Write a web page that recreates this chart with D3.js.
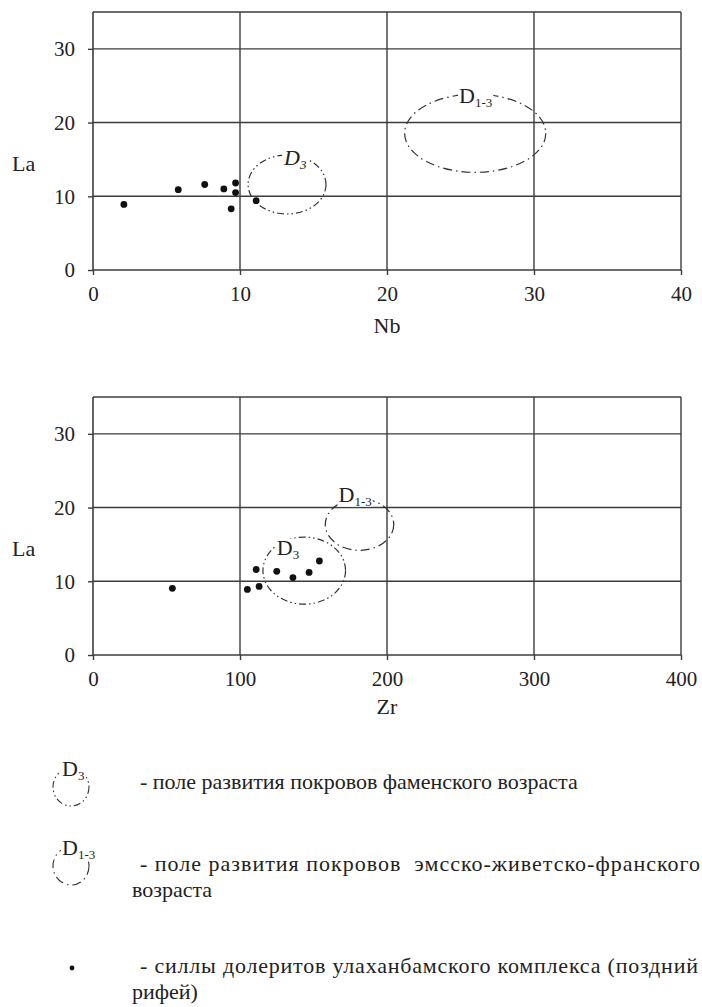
<!DOCTYPE html>
<html>
<head>
<meta charset="utf-8">
<script src="https://cdn.jsdelivr.net/npm/d3@7"></script>
<style>
  html, body { margin: 0; padding: 0; background: #fff; }
  svg text { font-family: "Liberation Serif", "DejaVu Serif", serif; fill: #222; white-space: pre; }
</style>
</head>
<body>
<div id="chart"></div>
<script>
// Nb–La diagram (upper panel)
const nbVals   = [2.1, 5.8, 7.6, 8.9, 9.7, 9.7, 9.4, 11.1];
const laVsNb   = [8.9, 10.9, 11.6, 11.0, 11.8, 10.5, 8.3, 9.4];
// Zr–La diagram (lower panel)
const zrVals   = [54, 105, 113, 111, 125, 136, 147, 154];
const laVsZr   = [9.05, 8.9, 9.3, 11.6, 11.35, 10.5, 11.2, 12.75];

// fields of the Devonian covers, in data units: [cx, cy, rx, ry, labelX, labelY]
const fieldNames = ['D3', 'D1-3'];
const fieldsNb   = [[13.2, 11.6, 2.65, 4.0, 13.0, 14.3], [26.0, 18.55, 4.8, 5.3, 24.9, 22.7]];
const fieldsZr   = [[143.7, 11.45, 28.1, 4.55, 125, 13.6], [181.3, 17.7, 23.3, 3.5, 167, 20.8]];

const laTicks = [0, 10, 20, 30];
const nbTicks = [0, 10, 20, 30, 40];
const zrTicks = [0, 100, 200, 300, 400];

// legend rows; a row that wraps is justified (its first line stretched to the margin)
const legendLines = [
  ['- поле развития покровов фаменского возраста'],
  ['- поле развития покровов  эмсско-живетско-франского', 'возраста'],
  ['- силлы долеритов улаханбамского комплекса (поздний', 'рифей)']
];

const W = 702, H = 1007;
const LINE = '#3c3c3c';
const SERIF = '"Liberation Serif", "DejaVu Serif", serif';
const dashes = { 'D3': '7,3,1.5,3,1.5,3', 'D1-3': '9,4,1.5,4' };

const svg = d3.select('#chart').append('svg')
  .attr('width', W).attr('height', H)
  .attr('viewBox', `0 0 ${W} ${H}`)
  .style('display', 'block');

function fieldLabel(g, x, y, name, italic) {
  const sub = name.slice(1);
  const t = g.append('text')
    .attr('x', x).attr('y', y)
    .style('font-family', SERIF)
    .style('font-size', '22px')
    .style('font-style', italic ? 'italic' : 'normal');
  t.append('tspan').text('D');
  t.append('tspan').attr('dy', 4).style('font-size', '13px').text(sub);
  return t;
}

function whiteBehind(g, t) {
  const bb = t.node().getBBox();
  g.insert('rect', () => t.node())
    .attr('x', bb.x - 1).attr('y', bb.y + 4)
    .attr('width', bb.width + 2).attr('height', bb.height - 6)
    .attr('fill', '#fff');
}

function mkScatter(top, xVals, yVals, xTicks, xMax, xTitle, fields, italicD3, titleY) {
  const left = 93, right = 681, bottom = top + 258;
  const x = d3.scaleLinear().domain([0, xMax]).range([left, right]);
  const y = d3.scaleLinear().domain([0, 35]).range([bottom, top]);
  const g = svg.append('g');

  // grid + frame
  g.selectAll('.gx').data(xTicks.slice(1)).join('line')
    .attr('x1', d => x(d)).attr('x2', d => x(d))
    .attr('y1', y(0)).attr('y2', y(35))
    .attr('stroke', LINE).attr('stroke-width', 1.4);
  g.selectAll('.gy').data(laTicks.slice(1).concat([35])).join('line')
    .attr('x1', x(0)).attr('x2', x(xMax))
    .attr('y1', d => y(d)).attr('y2', d => y(d))
    .attr('stroke', LINE).attr('stroke-width', 1.4);

  const ax = g.append('g').attr('transform', `translate(0,${y(0)})`)
    .call(d3.axisBottom(x).tickValues(xTicks).tickSize(5).tickPadding(11));
  const ay = g.append('g').attr('transform', `translate(${x(0)},0)`)
    .call(d3.axisLeft(y).tickValues(laTicks).tickSize(5).tickPadding(13));
  [ax, ay].forEach(a => {
    a.attr('font-family', null).attr('font-size', null);
    a.select('.domain').attr('stroke', LINE).attr('stroke-width', 1.6);
    a.selectAll('.tick line').attr('stroke', LINE).attr('stroke-width', 1.4);
    a.selectAll('.tick text').attr('fill', '#222')
      .style('font-family', SERIF).style('font-size', '21px');
  });
  ax.select('.domain').attr('d', `M${x(0)},0H${x(xMax)}`);
  ay.select('.domain').attr('d', `M0,${y(0)}V${y(35)}`);

  g.append('text').attr('x', 387).attr('y', titleY)
    .attr('text-anchor', 'middle').style('font-family', SERIF).style('font-size', '22px').text(xTitle);
  g.append('text').attr('x', 12).attr('y', top + 159)
    .style('font-family', SERIF).style('font-size', '22px').text('La');

  // fields
  fields.forEach((f, i) => {
    const name = fieldNames[i];
    g.append('ellipse')
      .attr('cx', x(f[0])).attr('cy', y(f[1]))
      .attr('rx', x(f[0] + f[2]) - x(f[0])).attr('ry', y(f[1]) - y(f[1] + f[3]))
      .attr('fill', 'none').attr('stroke', '#333').attr('stroke-width', 1.2)
      .attr('stroke-dasharray', dashes[name]);
    whiteBehind(g, fieldLabel(g, x(f[4]), y(f[5]), name, italicD3 && name === 'D3'));
  });

  g.selectAll('.pt').data(xVals.map((v, i) => [v, yVals[i]])).join('circle')
    .attr('cx', d => x(d[0])).attr('cy', d => y(d[1]))
    .attr('r', 3.4).attr('fill', '#111');
}

mkScatter(12, nbVals, laVsNb, nbTicks, 40, 'Nb', fieldsNb, true, 333);
mkScatter(397, zrVals, laVsZr, zrTicks, 400, 'Zr', fieldsZr, false, 714);

// legend
const lg = svg.append('g');
const legY = [787, 866, 968];
const justifyTo = [null, 560, 558];
fieldNames.forEach((name, i) => {
  lg.append('ellipse')
    .attr('cx', 71).attr('cy', legY[i]).attr('rx', 18).attr('ry', 19)
    .attr('fill', 'none').attr('stroke', '#333').attr('stroke-width', 1.1)
    .attr('stroke-dasharray', dashes[name]);
  whiteBehind(lg, fieldLabel(lg, 62, legY[i] - 11, name, false));
});
lg.append('circle').attr('cx', 72).attr('cy', legY[2]).attr('r', 2.4).attr('fill', '#111');

legendLines.forEach((lines, i) => {
  lines.forEach((s, j) => {
    const t = lg.append('text')
      .attr('x', j === 0 ? 140 : 132)
      .attr('y', legY[i] + 2 + (i === 0 ? 0 : 3) + j * 26)
      .style('font-family', SERIF).style('font-size', '22px')
      .text(s);
    if (j === 0 && justifyTo[i]) t.attr('textLength', justifyTo[i]).attr('lengthAdjust', 'spacing');
  });
});
</script>
</body>
</html>
